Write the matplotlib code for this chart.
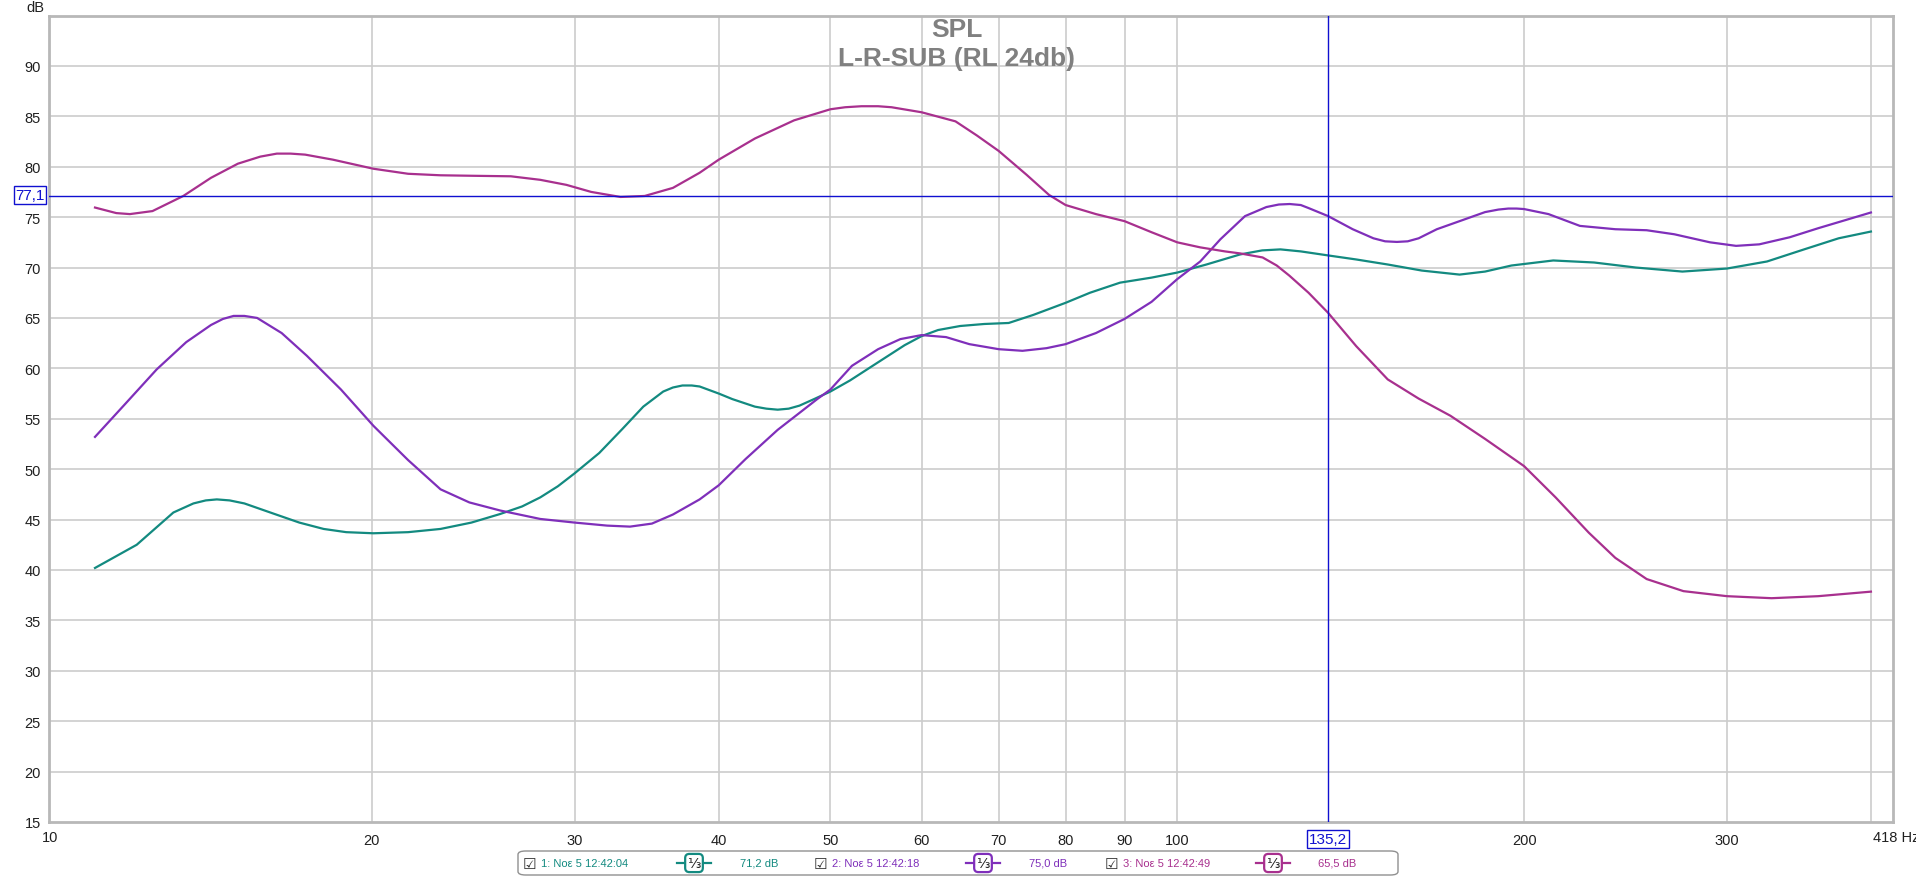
import matplotlib
matplotlib.use("Agg")
import matplotlib.pyplot as plt
from matplotlib.patches import FancyBboxPatch

plt.rcParams['font.family'] = ['Liberation Sans', 'DejaVu Sans']

# frequency [Hz] / SPL [dB]
f1 = [11.5, 12.5, 13.45, 14.0, 14.35, 14.67, 15.05, 15.5, 16.42, 17.3, 18.16, 19.0, 20.06,
      21.5, 22.94, 24.4, 25.84, 27.0, 28.0, 29.0, 30.0, 31.5, 33.0, 34.4, 35.8, 36.5, 37.2,
      37.9, 38.5, 40.0, 41.1, 43.0, 44.0, 45.0, 46.0, 47.0, 48.5, 50.0, 52.0, 55.0, 58.0,
      60.0, 62.0, 64.8, 68.0, 71.4, 75.0, 80.0, 84.0, 89.2, 95.0, 100, 106, 113.4, 118.5,
      122.9, 128, 135.2, 143, 152.3, 163, 175.8, 185, 195, 212, 230, 250, 274.4, 300, 325,
      350, 375, 400]
db1 = [40.2, 42.5, 45.7, 46.6, 46.9, 47.0, 46.9, 46.6, 45.6, 44.7, 44.07, 43.75, 43.64,
       43.75, 44.07, 44.7, 45.55, 46.3, 47.2, 48.3, 49.6, 51.6, 54.0, 56.2, 57.7, 58.1, 58.3,
       58.3, 58.2, 57.5, 56.95, 56.2, 56.0, 55.9, 56.0, 56.3, 57.0, 57.7, 58.8, 60.6, 62.3,
       63.2, 63.8, 64.2, 64.4, 64.5, 65.3, 66.5, 67.5, 68.5, 69.0, 69.5, 70.3, 71.3, 71.7,
       71.8, 71.6, 71.2, 70.8, 70.3, 69.7, 69.3, 69.6, 70.2, 70.7, 70.5, 70.0, 69.6, 69.9,
       70.6, 71.8, 72.9, 73.57]

f2 = [11.5, 12.2, 13.01, 13.8, 14.5, 14.85, 15.17, 15.5, 15.9, 16.7, 17.56, 18.8, 20.06,
      21.5, 22.94, 24.3, 25.84, 28.0, 30.0, 32.0, 33.5, 35.0, 36.5, 38.5, 40.0, 42.2, 45.0,
      48.7, 50.0, 52.2, 55.0, 57.5, 60.0, 63.0, 66.0, 70.0, 73.4, 77.0, 80.0, 85.0, 90.0,
      95.0, 100, 104.7, 109, 114.5, 119.5, 122.5, 125.2, 128, 130, 135.2, 142, 148, 151.5,
      155.1, 158.5, 162, 168, 175.8, 185, 190, 193.8, 197, 200, 210, 223.6, 240, 255.5, 270,
      290, 305.5, 320, 340, 360, 380, 400]
db2 = [53.2, 56.4, 59.9, 62.6, 64.3, 64.9, 65.2, 65.2, 65.0, 63.5, 61.25, 57.9, 54.3,
       50.9, 48.0, 46.7, 45.9, 45.06, 44.7, 44.4, 44.3, 44.6, 45.5, 47.0, 48.4, 51.0, 53.9,
       56.95, 57.9, 60.25, 61.9, 62.9, 63.3, 63.1, 62.4, 61.9, 61.74, 62.0, 62.4, 63.5, 64.9,
       66.6, 68.85, 70.6, 72.8, 75.1, 76.0, 76.25, 76.3, 76.2, 75.9, 75.1, 73.8, 72.9, 72.6,
       72.54, 72.6, 72.9, 73.8, 74.6, 75.5, 75.75, 75.85, 75.85, 75.8, 75.3, 74.13, 73.8,
       73.7, 73.3, 72.5, 72.15, 72.3, 73.0, 73.9, 74.7, 75.46]

f3 = [11.5, 12.0, 12.33, 12.9, 13.72, 14.5, 15.3, 16.0, 16.54, 17.0, 17.5, 18.5, 20.06,
      21.5, 22.94, 24.5, 26.4, 28.0, 29.5, 31.0, 32.87, 34.5, 36.5, 38.5, 40.0, 43.0, 46.5,
      50.0, 51.5, 53.2, 55.0, 56.5, 60.0, 64.2, 67.0, 70.0, 74.0, 77.4, 80.0, 85.0, 90.0,
      95.0, 100, 104.7, 110, 113.4, 118.6, 122, 125.1, 130, 135.2, 143, 152.3, 162, 172.6,
      185, 200, 213, 227.6, 240, 255.5, 275, 300, 328, 360, 400]
db3 = [75.95, 75.4, 75.3, 75.6, 77.1, 78.9, 80.3, 81.0, 81.3, 81.3, 81.2, 80.7, 79.8,
       79.3, 79.15, 79.1, 79.05, 78.7, 78.2, 77.5, 77.0, 77.1, 77.9, 79.4, 80.7, 82.8, 84.6,
       85.7, 85.9, 86.0, 86.0, 85.9, 85.4, 84.5, 83.1, 81.56, 79.2, 77.2, 76.2, 75.3, 74.6,
       73.5, 72.5, 72.0, 71.6, 71.4, 71.0, 70.2, 69.2, 67.5, 65.5, 62.2, 58.9, 57.0, 55.3,
       53.0, 50.3, 47.2, 43.7, 41.2, 39.1, 37.9, 37.4, 37.2, 37.4, 37.85]

names = ["1: Νοε 5 12:42:04", "2: Νοε 5 12:42:18", "3: Νοε 5 12:42:49"]
cursor_vals = ["71,2 dB", "75,0 dB", "65,5 dB"]
colors = ["#138a80", "#7f2fba", "#a8308e"]

x_ticks = [20, 30, 40, 50, 60, 70, 80, 90, 100, 200, 300]
x_grid = [20, 30, 40, 50, 60, 70, 80, 90, 100, 200, 300, 400]
y_ticks = [15, 20, 25, 30, 35, 40, 45, 50, 55, 60, 65, 70, 75, 80, 85, 90]
cursor_f = 135.2
cursor_db = 77.1

W, H = 1916, 878
fig = plt.figure(figsize=(W / 100, H / 100), dpi=100)
ax = fig.add_axes([49 / W, (H - 823) / H, (1892.6 - 49) / W, (823 - 16.5) / H])

ax.set_xscale("log")
ax.set_xlim(10.49, 417.7)
ax.set_ylim(15, 95)

for g in x_grid:
    ax.axvline(g, color="#cccccc", lw=1.2, zorder=0)
for g in y_ticks[1:]:
    ax.axhline(g, color="#cccccc", lw=1.2, zorder=0)

for f, d, c in zip([f1, f2, f3], [db1, db2, db3], colors):
    ax.plot(f, d, color=c, lw=1.6, zorder=3, solid_joinstyle="round")

ax.axhline(cursor_db, color="#1010d0", lw=1.0, zorder=4)
ax.axvline(cursor_f, color="#1010d0", lw=1.0, zorder=4)

ax.set_xticks(x_ticks)
ax.set_xticklabels([str(t) for t in x_ticks])
ax.xaxis.set_minor_locator(matplotlib.ticker.NullLocator())
ax.set_yticks(y_ticks)
ax.tick_params(length=0, labelsize=10.5, colors="#202020", pad=6)
ax.tick_params(axis="x", pad=8)

for s in ax.spines.values():
    s.set_color("#b8b8b8")
    s.set_linewidth(2.0)

# edge labels
fig.text(50 / W, 1 - 838 / H, "10", ha="center", va="center", fontsize=10.5, color="#202020")
fig.text(1896 / W, 1 - 838 / H, "418 Hz", ha="center", va="center", fontsize=10.5, color="#202020")
fig.text(35 / W, 1 - 8 / H, "dB", ha="center", va="center", fontsize=10.5, color="#202020")

# cursor value boxes
fig.text(30 / W, 1 - 196 / H, "77,1", ha="center", va="center", fontsize=11, color="#1010d0",
         bbox=dict(boxstyle="square,pad=0.1", fc="white", ec="#1010d0", lw=1))
fig.text(1328 / W, 1 - 840 / H, "135,2", ha="center", va="center", fontsize=11, color="#1010d0",
         bbox=dict(boxstyle="square,pad=0.1", fc="white", ec="#1010d0", lw=1))

# title
fig.text(957 / W, 1 - 30 / H, "SPL", ha="center", va="center", fontsize=19,
         fontweight="bold", color="#808080")
fig.text(957 / W, 1 - 59 / H, "L-R-SUB (RL 24db)", ha="center", va="center", fontsize=19,
         fontweight="bold", color="#808080")

# legend strip
fig.patches.append(FancyBboxPatch((518 / W, 1 - 876 / H), (1398 - 518) / W, 24 / H,
                                  boxstyle="round,pad=0,rounding_size=0.004",
                                  transform=fig.transFigure, fc="white", ec="#909090", lw=1))
x_check = [529, 820, 1111]
x_name = [541, 832, 1123]
x_icon = [694, 983, 1273]
x_val = [759, 1048, 1337]
for i in range(3):
    fig.text(x_check[i] / W, 1 - 864 / H, "☑", ha="center", va="center", fontsize=11,
             color="#303030", family=["DejaVu Sans"])
    fig.text(x_name[i] / W, 1 - 864 / H, names[i], ha="left", va="center", fontsize=8,
             color=colors[i])
    fig.lines.append(matplotlib.lines.Line2D([(x_icon[i] - 17) / W, (x_icon[i] + 17) / W],
                                             [1 - 864 / H, 1 - 864 / H], color=colors[i],
                                             lw=1.6, transform=fig.transFigure))
    fig.text(x_icon[i] / W, 1 - 864 / H, "⅓", ha="center", va="center", fontsize=10,
             color="#202020", family=["DejaVu Sans"],
             bbox=dict(boxstyle="round,pad=0.15,rounding_size=0.3", fc="white",
                       ec=colors[i], lw=1.6))
    fig.text(x_val[i] / W, 1 - 864 / H, cursor_vals[i], ha="center", va="center",
             fontsize=8, color=colors[i])

fig.savefig("out.png", dpi=100)
